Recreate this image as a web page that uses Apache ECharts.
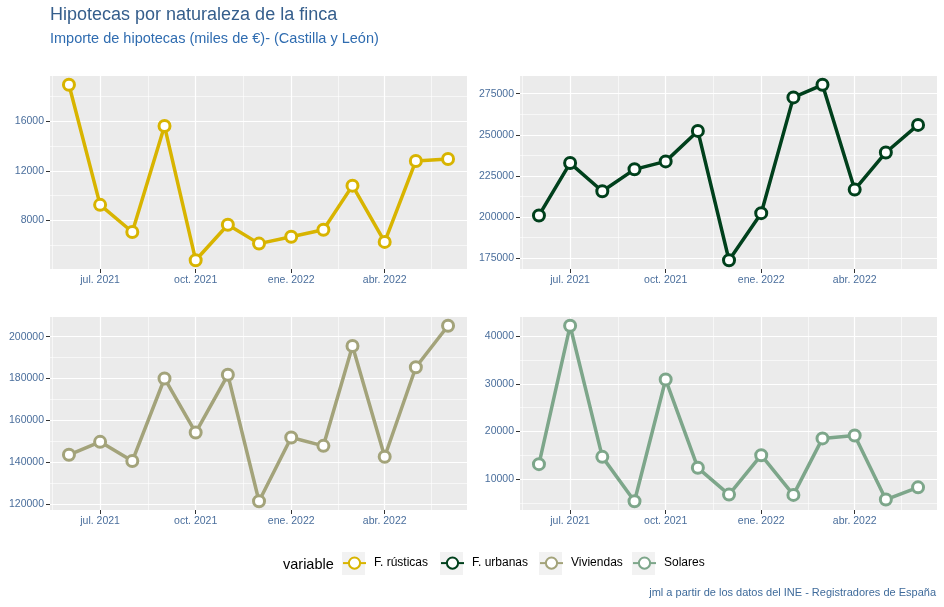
<!DOCTYPE html>
<html>
<head>
<meta charset="utf-8">
<script src="https://cdn.jsdelivr.net/npm/echarts@6.0.0/dist/echarts.min.js"></script>
<style>
html,body{margin:0;padding:0;background:#fff;}
#chart{width:944px;height:607px;}
</style>
</head>
<body>
<div id="chart"></div>
<script>
// ---------------- DATA ----------------
const months = ['2021-06-01','2021-07-01','2021-08-01','2021-09-01','2021-10-01','2021-11-01','2021-12-01',
                '2022-01-01','2022-02-01','2022-03-01','2022-04-01','2022-05-01','2022-06-01'];
const seriesNames = ['F. rústicas','F. urbanas','Viviendas','Solares'];
const rusticas  = [18950, 9260, 7070, 15620, 4790, 7650, 6130, 6690, 7250, 10810, 6270, 12800, 12960];
const urbanas   = [201000, 232850, 215750, 229050, 233880, 252400, 173800, 202400, 272770, 280440, 216730, 239300, 256040];
const viviendas = [143470, 149660, 140480, 180000, 154130, 181760, 121240, 151760, 147760, 195570, 142520, 185380, 205240];
const solares   = [13130, 42230, 14660, 5330, 30920, 12360, 6720, 15010, 6660, 18540, 19150, 5680, 8250];

const xTickDates  = ['2021-07-01','2021-10-01','2022-01-01','2022-04-01'];
const xTickLabels = ['jul. 2021','oct. 2021','ene. 2022','abr. 2022'];
const xMinorDates = ['2021-05-16','2021-08-16','2021-11-16','2022-02-15','2022-05-16'];

const rusticasTicks  = [8000, 12000, 16000];
const rusticasMinor  = [6000, 10000, 14000, 18000];
const urbanasTicks   = [175000, 200000, 225000, 250000, 275000];
const urbanasMinor   = [187500, 212500, 237500, 262500];
const viviendasTicks = [120000, 140000, 160000, 180000, 200000];
const viviendasMinor = [130000, 150000, 170000, 190000];
const solaresTicks   = [10000, 20000, 30000, 40000];
const solaresMinor   = [5000, 15000, 25000, 35000];

const titleText    = 'Hipotecas por naturaleza de la finca';
const subtitleText = 'Importe de hipotecas (miles de €)- (Castilla y León)';
const legendTitle  = 'variable';
const captionText  = 'jml a partir de los datos del INE - Registradores de España';

// ---------------- STYLE / LAYOUT ----------------
const colors = ['#D8B400', '#00401C', '#A3A37A', '#7DA68A'];
const grids = [
  {left: 50,  top: 76,  width: 417, height: 193},
  {left: 520, top: 76,  width: 417, height: 193},
  {left: 50,  top: 317, width: 417, height: 193},
  {left: 520, top: 317, width: 417, height: 193}
];
const legendBoxLeft = [342, 440, 539, 632];
const FONT = 'Arial, "Liberation Sans", sans-serif';
const axisTextColor = '#4A6E9C';

function ts(s) { const p = s.split('-').map(Number); return Date.UTC(p[0], p[1]-1, p[2]); }

const xs = months.map(ts);
const xSpan = xs[xs.length-1] - xs[0];
const xMin = xs[0] - 0.05 * xSpan;
const xMax = xs[xs.length-1] + 0.05 * xSpan;
const xMajor = xTickDates.map(ts);
const xMinor = xMinorDates.map(ts);

const allValues = [rusticas, urbanas, viviendas, solares];
const majorTicks = [rusticasTicks, urbanasTicks, viviendasTicks, solaresTicks];
const minorTicks = [rusticasMinor, urbanasMinor, viviendasMinor, solaresMinor];

function yExtent(vals) {
  const mn = Math.min(...vals), mx = Math.max(...vals), r = mx - mn;
  return [mn - 0.05 * r, mx + 0.05 * r];
}

const xAxes = [], yAxes = [], series = [], legends = [], graphics = [];

for (let i = 0; i < 4; i++) {
  const ext = yExtent(allValues[i]);
  xAxes.push({
    type: 'value', gridIndex: i, min: xMin, max: xMax, position: 'bottom',
    axisLine: {show: false},
    axisTick: {show: true, length: 4, lineStyle: {color: '#333333', width: 1}, customValues: xMajor},
    axisLabel: {show: true, customValues: xMajor, margin: 6, color: axisTextColor, fontSize: 10.5, fontFamily: FONT,
      formatter: function (v) {
        for (let k = 0; k < xMajor.length; k++) if (Math.abs(xMajor[k] - v) < 1e6) return xTickLabels[k];
        return '';
      }},
    splitLine: {show: true, lineStyle: {color: '#FFFFFF', width: 1.2}},
    z: 2
  });
  yAxes.push({
    type: 'value', gridIndex: i, min: ext[0], max: ext[1], position: 'left',
    axisLine: {show: false},
    axisTick: {show: true, length: 4, lineStyle: {color: '#333333', width: 1}, customValues: majorTicks[i]},
    axisLabel: {show: true, customValues: majorTicks[i], margin: 6, color: axisTextColor, fontSize: 10.5, fontFamily: FONT,
      formatter: function (v) { return String(Math.round(v)); }},
    splitLine: {show: true, lineStyle: {color: '#FFFFFF', width: 1.2}},
    z: 2
  });
}
for (let i = 0; i < 4; i++) {
  const ext = yExtent(allValues[i]);
  xAxes.push({
    type: 'value', gridIndex: i, min: xMin, max: xMax, position: 'top',
    axisLine: {show: false},
    axisTick: {show: false, customValues: xMinor},
    axisLabel: {show: false, customValues: xMinor},
    splitLine: {show: true, lineStyle: {color: '#FFFFFF', width: 0.6}},
    z: 1
  });
  yAxes.push({
    type: 'value', gridIndex: i, min: ext[0], max: ext[1], position: 'right',
    axisLine: {show: false},
    axisTick: {show: false, customValues: minorTicks[i]},
    axisLabel: {show: false, customValues: minorTicks[i]},
    splitLine: {show: true, lineStyle: {color: '#FFFFFF', width: 0.6}},
    z: 1
  });
}

for (let i = 0; i < 4; i++) {
  series.push({
    name: seriesNames[i], type: 'line', xAxisIndex: i, yAxisIndex: i,
    data: xs.map((x, k) => [x, allValues[i][k]]),
    symbol: 'circle', symbolSize: 11, showSymbol: true,
    lineStyle: {color: colors[i], width: 3.5},
    itemStyle: {color: '#FFFFFF', borderColor: colors[i], borderWidth: 3},
    emphasis: {disabled: true},
    animation: false, z: 3
  });
  legends.push({
    data: [seriesNames[i]], left: legendBoxLeft[i], top: 556.5, orient: 'horizontal', padding: 0,
    itemWidth: 23, itemHeight: 14, selectedMode: false,
    textStyle: {color: '#000000', fontSize: 12, fontFamily: FONT, padding: [0, 0, 0, 3]}
  });
  graphics.push({
    type: 'rect', left: legendBoxLeft[i], top: 552, z: -1,
    shape: {width: 23, height: 23}, style: {fill: '#F2F2F2'}
  });
}

const option = {
  animation: false,
  backgroundColor: '#FFFFFF',
  title: [
    {text: titleText, left: 50, top: 6, padding: 0,
     textStyle: {color: '#355E8C', fontSize: 18, fontWeight: 'normal', fontFamily: FONT}},
    {text: subtitleText, left: 50, top: 31, padding: 0,
     textStyle: {color: '#2F6CB0', fontSize: 14.5, fontWeight: 'normal', fontFamily: FONT}},
    {text: legendTitle, left: 283, top: 557, padding: 0,
     textStyle: {color: '#000000', fontSize: 14.5, fontWeight: 'normal', fontFamily: FONT}},
    {text: captionText, right: 8, top: 587, padding: 0,
     textStyle: {color: '#3F6B9B', fontSize: 11, fontWeight: 'normal', fontFamily: FONT}}
  ],
  grid: grids.map(g => Object.assign({show: true, backgroundColor: '#EBEBEB', borderWidth: 0}, g)),
  xAxis: xAxes,
  yAxis: yAxes,
  legend: legends,
  graphic: graphics,
  series: series
};

const chart = echarts.init(document.getElementById('chart'), null, {renderer: 'canvas'});
chart.setOption(option);
</script>
</body>
</html>
